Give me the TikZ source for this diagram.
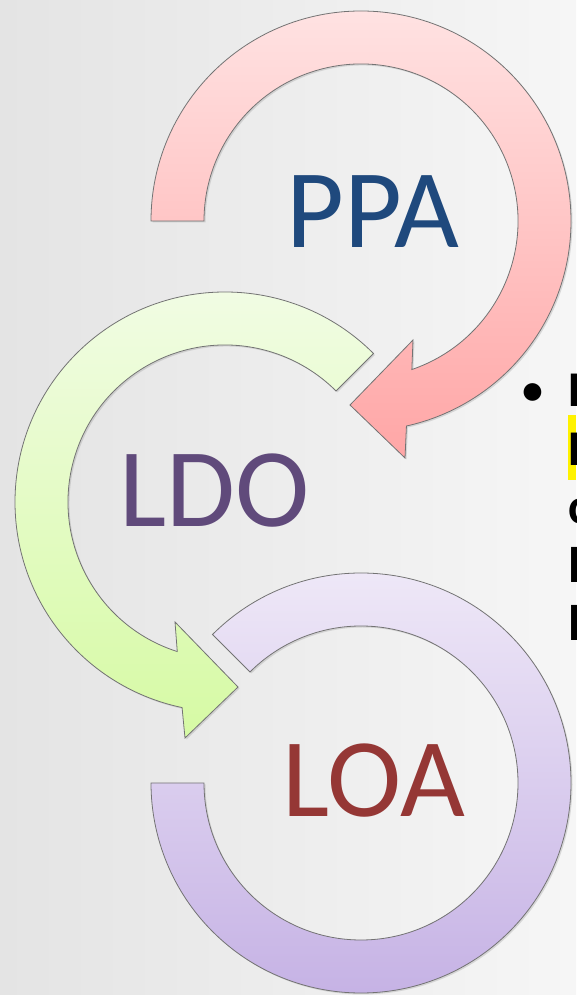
\documentclass[tikz,border=0pt]{standalone}
\usepackage{fontspec}
\setmainfont{Carlito}
\usepackage{tikz}
\usetikzlibrary{shadows}

\definecolor{bgLeft}{RGB}{228,228,228}
\definecolor{bgRight}{RGB}{246,246,246}
\definecolor{ppaTop}{RGB}{255,226,226}
\definecolor{ppaBot}{RGB}{255,166,166}
\definecolor{ldoTop}{RGB}{242,252,230}
\definecolor{ldoBot}{RGB}{214,250,164}
\definecolor{loaTop}{RGB}{240,234,248}
\definecolor{loaBot}{RGB}{196,176,228}
\definecolor{ppaText}{RGB}{31,73,125}
\definecolor{ldoText}{RGB}{96,74,123}
\definecolor{loaText}{RGB}{149,55,53}

\begin{document}
\begin{tikzpicture}[x=1pt, y=1pt,
    ring/.style={draw=black!55, line width=0.8pt,
        drop shadow={shadow xshift=1.5pt, shadow yshift=-1.5pt, opacity=0.25}},
    big/.style={font=\fontsize{112}{112}\selectfont, anchor=base, inner sep=0pt},
    side/.style={font=\fontsize{50}{50}\selectfont\bfseries, anchor=base west, inner sep=0pt}]
    \useasboundingbox (0, 0) rectangle (576, 995);
    \shade [left color=bgLeft, right color=bgRight] (0, 0) rectangle (576, 995);

    % LOA ring
    \begin{scope}[shift={(361, 212)}]
        \draw [ring, top color=loaTop, bottom color=loaBot]
            (135:210) arc[start angle=135, end angle=-180, radius=210]
            -- (180:157) arc[start angle=-180, end angle=135, radius=157] -- cycle;
    \end{scope}

    % LDO arrow
    \begin{scope}[shift={(225, 493)}]
        \draw [ring, top color=ldoTop, bottom color=ldoBot]
            (45:210) arc[start angle=45, end angle=258.2, radius=210]
            -- (-40, -236) -- (13, -185) -- (-50, -120)
            -- (252.3:157) arc[start angle=252.3, end angle=45, radius=157] -- cycle;
    \end{scope}

    % PPA arrow
    \begin{scope}[shift={(361, 774)}]
        \draw [ring, top color=ppaTop, bottom color=ppaBot]
            (180:210) arc[start angle=180, end angle=-77.5, radius=210]
            -- (44, -237) -- (-11, -184) -- (52, -119)
            -- (-71.1:157) arc[start angle=-71.1, end angle=180, radius=157] -- cycle;
    \end{scope}

    \node[big, text=ppaText] (ppa) at (373, 747) {PPA};
    \node[big, text=ldoText] (ldo) at (215, 468) {LDO};
    \node[big, text=loaText] (loa) at (374, 178) {LOA};

    % text cut off at the right edge
    \fill [yellow] (568, 515) rectangle (576, 580);
    \node[font=\fontsize{50}{50}\selectfont, anchor=base] (dot) at (533, 588) {•};
    \node[side] (line1) at (568, 588) {P};
    \node[side] (line2) at (568, 529) {P};
    \node[side] (line3) at (568, 471) {c};
    \node[side] (line4) at (568, 412) {l};
    \node[side] (line5) at (568, 354) {l};
\end{tikzpicture}
\end{document}
